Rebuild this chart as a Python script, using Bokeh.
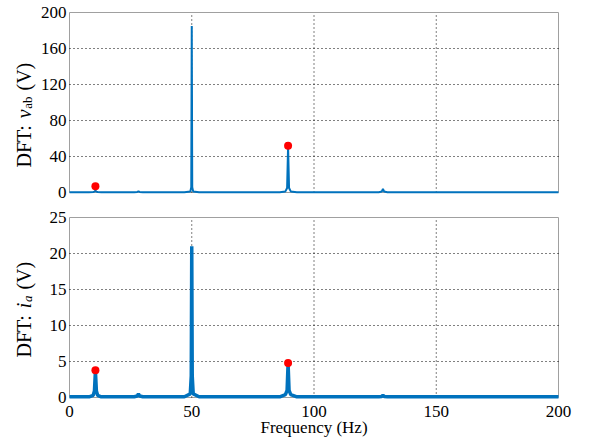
import math
from bokeh.plotting import figure
from bokeh.layouts import column
from bokeh.models import Range1d
from bokeh.core.properties import value
from bokeh.embed import file_html
from bokeh.resources import INLINE

# ---- data ----
freq = [0, 8, 9.7, 10.2, 10.6, 11.0, 11.5, 13, 26.5, 27.7, 28.2, 28.7, 30,
        47, 49.4, 49.8, 50, 50.2, 50.6, 53, 86, 88.3, 89.0, 89.4, 89.8, 90.5, 93,
        126.5, 127.7, 128.2, 128.7, 130, 200]
v_ab = [0.3, 0.3, 0.5, 1.0, 2.0, 1.0, 0.5, 0.3, 0.3, 0.6, 1.2, 0.6, 0.3,
        0.4, 1.0, 6, 185, 6, 1.0, 0.4, 0.4, 1.2, 5, 51, 5, 1.2, 0.4,
        0.3, 1, 4, 1, 0.3, 0.3]
i_a = [0.1, 0.1, 0.3, 0.9, 3.7, 0.9, 0.3, 0.1, 0.1, 0.2, 0.5, 0.2, 0.1,
       0.1, 0.5, 3, 21, 3, 0.5, 0.1, 0.1, 0.4, 1.0, 4.7, 1.0, 0.4, 0.1,
       0.1, 0.15, 0.3, 0.15, 0.1, 0.1]
mark_freq = [10.6, 89.4]
mark_v = [7, 52]
mark_i = [3.8, 4.8]

x_ticks = [0, 50, 100, 150, 200]
v_ticks = [0, 40, 80, 120, 160, 200]
i_ticks = [0, 5, 10, 15, 20, 25]
x_label = "Frequency (Hz)"

# ---- layout (pixels) ----
FONT = "Liberation Serif"
BLUE = "#0072BD"
GRAY = "#a0a0a0"
W = 591
BOX_L, BOX_R = 69, 558          # box edges inside the figure
BOX_H = 180                     # height of each box
XMAX = x_ticks[-1]
kx = XMAX / (BOX_R - BOX_L)     # Hz per pixel
XR = (-BOX_L * kx, XMAX + (W - BOX_R) * kx)


def panel(yticks, top_pad, bot_pad, ydata, lw, marks, pieces, start_px, with_x):
    ymax = yticks[-1]
    ky = ymax / BOX_H
    h = top_pad + BOX_H + bot_pad
    p = figure(width=W, height=h, output_backend="svg", toolbar_location=None,
               x_range=Range1d(*XR),
               y_range=Range1d(-bot_pad * ky, ymax + top_pad * ky),
               min_border=0)
    p.outline_line_color = None
    p.axis.visible = False
    p.grid.visible = False

    # box
    p.quad(left=[x_ticks[0]], right=[x_ticks[-1]], bottom=[yticks[0]], top=[yticks[-1]],
           fill_color=None, line_color=GRAY, line_width=1)
    # dotted grid
    inner_x = x_ticks[1:-1]
    inner_y = yticks[1:-1]
    p.segment(x0=inner_x, x1=inner_x, y0=[yticks[0]] * len(inner_x), y1=[yticks[-1]] * len(inner_x),
              line_color="black", line_dash="1 3", line_width=1)
    p.segment(x0=[x_ticks[0]] * len(inner_y), x1=[x_ticks[-1]] * len(inner_y), y0=inner_y, y1=inner_y,
              line_color="black", line_dash="1 3", line_width=1)
    # y tick labels
    p.text(x=[x_ticks[0]] * len(yticks), y=yticks, text=[str(t) for t in yticks],
           x_offset=-3, text_align="right", text_baseline="middle",
           text_font=value(FONT), text_font_size="17px", text_color="black")
    # x tick labels and axis title
    if with_x:
        p.text(x=x_ticks, y=[-14 * ky] * len(x_ticks), text=[str(t) for t in x_ticks],
               text_align="center", text_baseline="middle",
               text_font=value(FONT), text_font_size="17px", text_color="black")
        p.text(x=[(x_ticks[0] + x_ticks[-1]) / 2], y=[-30 * ky], text=[x_label],
               text_align="center", text_baseline="middle",
               text_font=value(FONT), text_font_size="17px", text_color="black")
    # data
    p.line(freq, ydata, line_color=BLUE, line_width=lw)
    p.scatter(mark_freq, marks, size=8, fill_color="red", line_color=None)
    # rotated y label made of styled pieces
    pos = start_px
    for text, size, fstyle, gap, width, xo in pieces:
        pos += gap
        p.text(x=[x_ticks[0]], y=[pos * ky], text=[text], angle=math.pi / 2,
               x_offset=xo, text_align="left", text_baseline="alphabetic",
               text_font=value(FONT), text_font_size=f"{size}px",
               text_font_style=fstyle, text_color="black")
        pos += width
    return p


p1 = panel(v_ticks, 12, 12, v_ab, 2, mark_v,
           [("DFT:", 20, "normal", 0, 43.3, -46),
            ("v", 20, "italic", 6, 8.9, -46),
            ("ab", 13, "normal", 0.5, 12.3, -42),
            ("(V)", 20, "normal", 6, 27.8, -46)], 25, False)
p2 = panel(i_ticks, 13, 41, i_a, 3.5, mark_i,
           [("DFT:", 20, "normal", 0, 43.3, -46),
            ("i", 20, "italic", 6, 5.6, -46),
            ("a", 13, "italic", 0.5, 6.5, -42),
            ("(V)", 20, "normal", 6, 27.8, -46)], 40, True)

layout = column(p1, p2, spacing=0)
open("out.html", "w").write(file_html(layout, INLINE))
